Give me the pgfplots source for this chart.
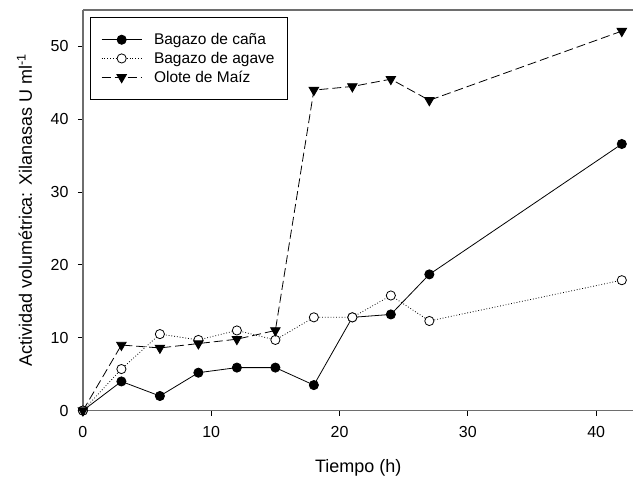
\documentclass[border=0pt]{standalone}
\usepackage{fontspec}
\setmainfont{Liberation Sans}
\usepackage{pgfplots}
\pgfplotsset{compat=1.18}
\definecolor{axgray}{RGB}{110,110,110}
\newcommand{\lf}{\fontsize{15.5}{19.5}\selectfont}
\begin{document}
\begin{tikzpicture}
\begin{axis}[
  scale only axis, width=551pt, height=401pt,
  xmin=0, xmax=42.9, ymin=0, ymax=55,
  axis x line*=box, axis y line*=left,
  x axis line style={-, line width=1.3pt, axgray},
  y axis line style={-, line width=1.3pt, axgray},
  xtick={0,10,20,30,40}, ytick={0,10,20,30,40,50},
  tick align=outside, xtick pos=bottom, ytick pos=left,
  major tick length=5pt,
  tick style={line width=0.9pt, black},
  minor tick num=0,
  /pgf/number format/assume math mode=true,
  ticklabel style={font=\fontsize{16}{19}\selectfont},
  xticklabel style={yshift=-7pt},
  yticklabel style={xshift=-6pt},
  xlabel={Tiempo (h)},
  ylabel={Actividad volumétrica: Xilanasas U ml\textsuperscript{-1}},
  label style={font=\fontsize{18}{21}\selectfont},
  xlabel style={at={([yshift=-62pt]axis description cs:0.5,0)}, anchor=base},
  ylabel style={at={([xshift=-51pt]axis description cs:0,0.5)}, anchor=base},
  clip=false,
  legend style={at={(0.0127,0.9825)}, anchor=north west, draw=black, line width=0.8pt,
    inner xsep=11pt, inner ysep=14pt, column sep=10pt, row sep=2pt},
  legend cell align=left,
  legend image code/.code={\draw[mark repeat=2,mark phase=2,#1] plot coordinates {(0pt,0pt) (20pt,0pt) (40pt,0pt)};},
]
\addplot[black, line width=0.8pt, mark=*, mark size=4.6pt, mark options={solid, fill=black}]
 coordinates {(0,0) (3,4) (6,2) (9,5.2) (12,5.9) (15,5.9) (18,3.5) (21,12.8) (24,13.2) (27,18.7) (42,36.6)};
\addlegendentry{\lf Bagazo de caña}
\addplot[black, line width=0.8pt, dotted, mark=*, mark size=4.6pt, mark options={solid, fill=white}]
 coordinates {(0,0) (3,5.7) (6,10.5) (9,9.7) (12,11) (15,9.7) (18,12.8) (21,12.8) (24,15.8) (27,12.3) (42,17.9)};
\addlegendentry{\lf Bagazo de agave}
\addplot[black, line width=0.8pt, dash pattern=on 9pt off 4pt, mark=triangle*, mark size=5.5pt, mark options={solid, fill=black, rotate=180}]
 coordinates {(0,0) (3,9) (6,8.6) (9,9.2) (12,9.8) (15,11) (18,44) (21,44.5) (24,45.5) (27,42.6) (42,52.1)};
\addlegendentry{\lf Olote de Maíz}
\end{axis}
\path[use as bounding box] (-83pt,-65pt) rectangle (551pt,411pt);
\end{tikzpicture}
\end{document}
